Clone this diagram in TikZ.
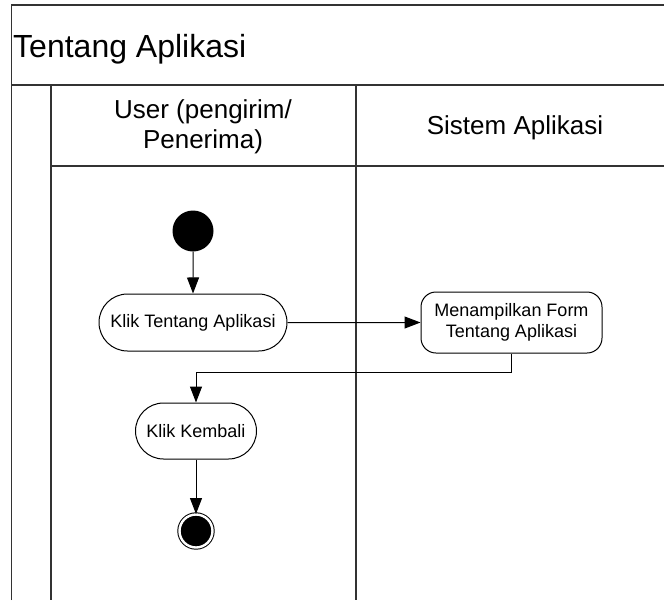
\documentclass[tikz,border=0pt]{standalone}
\usepackage{fontspec}
\setmainfont{Liberation Sans}
\usetikzlibrary{arrows.meta,shapes.misc,calc}

\begin{document}
\begin{tikzpicture}[x=1pt,y=-1pt,
  lane/.style={line width=1.3pt,draw=black!80},
  action/.style={draw,line width=1pt,rounded rectangle,inner sep=0pt,align=center,
    font=\fontsize{18}{21}\selectfont},
  boxaction/.style={draw,line width=1pt,rounded corners=15pt,inner sep=0pt,align=center,
    font=\fontsize{18}{21}\selectfont},
  flow/.style={line width=1pt,-{Triangle[length=16pt,width=12pt]}},
  startnode/.style={circle,fill=black,inner sep=0pt,minimum size=41pt},
  endnode/.style={circle,draw,line width=1pt,fill=black,inner sep=0pt,minimum size=33pt,
    double=white,double distance=2.4pt}
]
\useasboundingbox (0,0) rectangle (664,600);

% swimlane frame
\draw[lane] (11.5,600) -- (11.5,5) -- (664,5);
\draw[lane,line width=1.8pt] (11.5,85) -- (664,85);
\draw[lane] (51,85) -- (51,600);
\draw[lane] (356,85) -- (356,600);
\draw[lane] (51,166) -- (664,166);

% titles
\node[anchor=base west,inner sep=0pt,font=\fontsize{32}{38}\selectfont] (title) at (13,57) {Tentang Aplikasi};
\node[anchor=base,inner sep=0pt,align=center,font=\fontsize{26}{30}\selectfont] (laneuser) at (203,148)
  {User (pengirim/\\Penerima)};
\node[anchor=base,inner sep=0pt,font=\fontsize{26}{30}\selectfont] (lanesys) at (515,134) {Sistem Aplikasi};

% activity nodes
\node[startnode] (start) at (193,231) {};
\node[action,minimum width=188pt,minimum height=57pt] (klik) at (193,322.5) {Klik Tentang Aplikasi};
\node[boxaction,minimum width=181pt,minimum height=61pt] (form) at (511.5,322.5)
  {Menampilkan Form\\Tentang Aplikasi};
\node[action,minimum width=121pt,minimum height=56pt] (kembali) at (196,431) {Klik Kembali};
\node[endnode] (end) at (196,531) {};

% control flow
\draw[flow] (start) -- (klik);
\draw[flow] (klik) -- (form);
\draw[flow] (form.south) -- ++(0,19) -| (kembali.north);
\draw[flow] (kembali) -- (end);
\end{tikzpicture}
\end{document}
